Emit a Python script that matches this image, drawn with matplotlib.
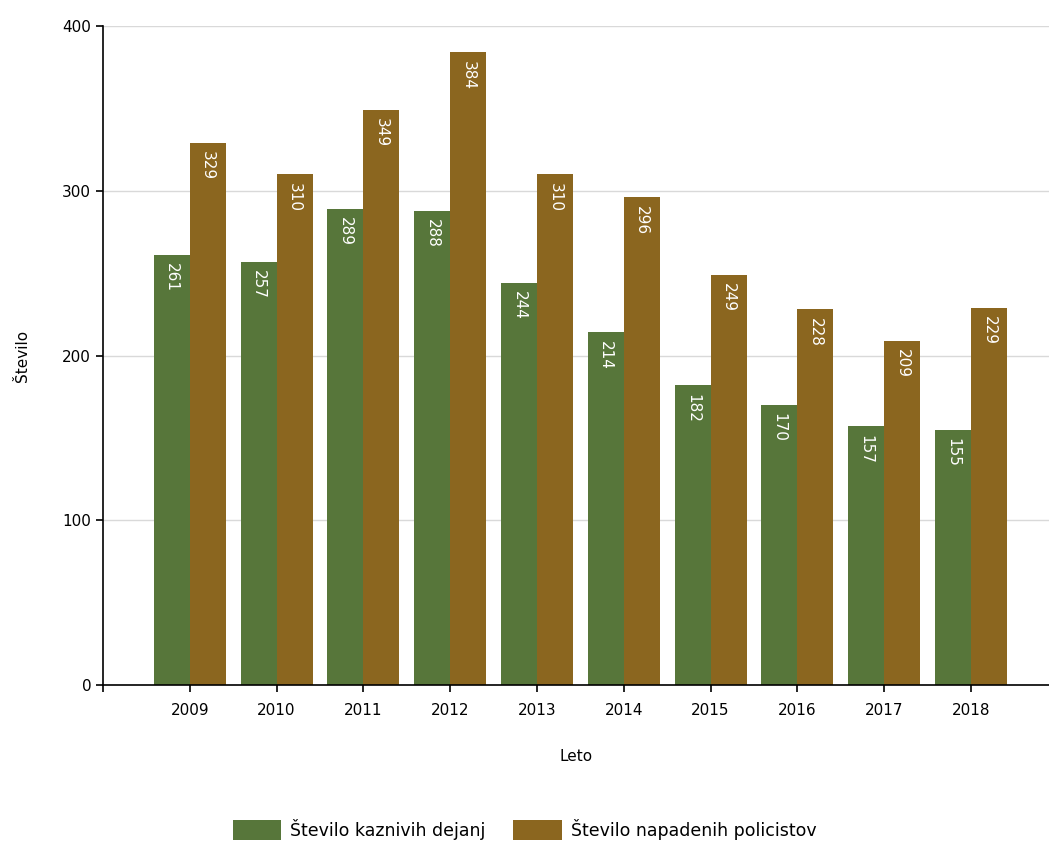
import numpy as np
import matplotlib
matplotlib.use('Agg')
import matplotlib.pyplot as plt

leta = ['2009', '2010', '2011', '2012', '2013', '2014', '2015', '2016', '2017', '2018']
kazniva_dejanja = [261, 257, 289, 288, 244, 214, 182, 170, 157, 155]
napadeni_policisti = [329, 310, 349, 384, 310, 296, 249, 228, 209, 229]

zelena = '#57763a'
rjava = '#8b661f'

fig = plt.figure(figsize=(10.49, 8.42), dpi=100)
ax = fig.add_axes([0.0982, 0.1865, 0.9018, 0.7825])

x = np.arange(len(leta))
w = 0.415
b1 = ax.bar(x - w / 2, kazniva_dejanja, width=w, color=zelena, label='Število kaznivih dejanj', zorder=2)
b2 = ax.bar(x + w / 2, napadeni_policisti, width=w, color=rjava, label='Število napadenih policistov', zorder=2)

# oznake vrednosti v stolpcih
for bars in (b1, b2):
    for r in bars:
        ax.annotate(str(int(r.get_height())),
                    (r.get_x() + r.get_width() / 2, r.get_height()),
                    xytext=(0, -6), textcoords='offset points',
                    ha='center', va='top', rotation=-90,
                    color='white', fontsize=11, zorder=3)

ax.set_xlim(-1, 9.9)
ax.set_ylim(0, 400)
ax.set_yticks([0, 100, 200, 300, 400])
ax.set_xticks(np.concatenate([[-1], x]))
ax.set_xticklabels([''] + leta)
ax.yaxis.grid(True, color='#d9d9d9', linewidth=1, zorder=0)
ax.tick_params(axis='both', labelsize=11, length=5, direction='out', color='black', width=1.2)
ax.tick_params(axis='x', pad=8)

for s in ['top', 'right']:
    ax.spines[s].set_visible(False)
ax.spines['left'].set_linewidth(1.2)
ax.spines['bottom'].set_linewidth(1.2)

ax.set_xlabel('Leto', fontsize=11, labelpad=22)
ax.set_ylabel('Število', fontsize=11)
ax.yaxis.set_label_coords(-0.077, 0.5)

fig.legend(loc='lower center', bbox_to_anchor=(0.5, -0.016), ncol=2, frameon=False,
           fontsize=12.5, handlelength=2.8, handleheight=1.4, columnspacing=1.6, handletextpad=0.5)

plt.savefig('out.png', dpi=100)
